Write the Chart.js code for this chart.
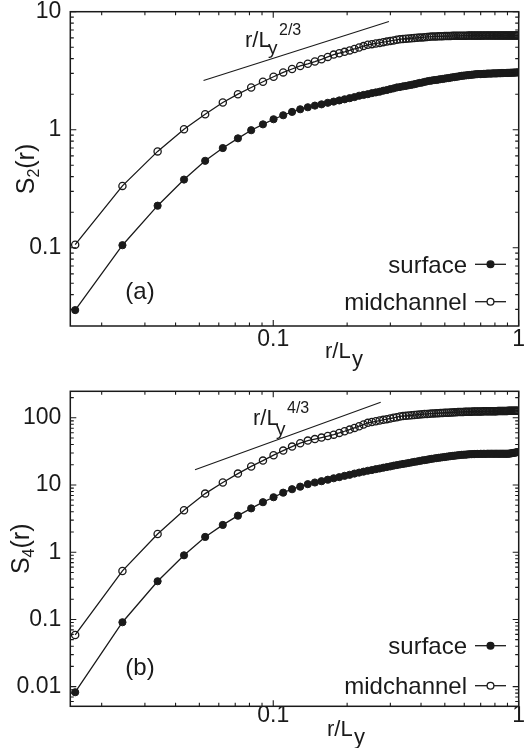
<!DOCTYPE html>
<html>
<head>
<meta charset="utf-8">
<script src="https://cdn.jsdelivr.net/npm/chart.js@4.4.0/dist/chart.umd.min.js"></script>
<style>
  html, body { margin: 0; padding: 0; background: #fff; }
  body { width: 524px; height: 748px; position: relative; overflow: hidden; }
  .panel { position: absolute; left: 0; width: 524px; height: 374px; }
</style>
</head>
<body>
<div class="panel" style="top:0"><canvas id="chartA" width="524" height="374"></canvas></div>
<div class="panel" style="top:374px"><canvas id="chartB" width="524" height="374"></canvas></div>
<script>
const INK = "#1a1a1a"
const FONT = '"Liberation Sans", Arial, sans-serif'

// r / L_y
const rValues = [
  0.0156, 0.0243, 0.0338, 0.0433, 0.0528, 0.0623, 0.0718, 0.0813, 0.0908, 0.1003,
  0.1098, 0.1193, 0.1288, 0.1383, 0.1478, 0.1573, 0.1668, 0.1763, 0.1858, 0.1953,
  0.2048, 0.2143, 0.2238, 0.2333, 0.2428, 0.2523, 0.2618, 0.2713, 0.2808, 0.2903,
  0.2998, 0.3093, 0.3188, 0.3283, 0.3378, 0.3473, 0.3568, 0.3663, 0.3758, 0.3853,
  0.3948, 0.4043, 0.4138, 0.4233, 0.4328, 0.4423, 0.4518, 0.4613, 0.4708, 0.4803,
  0.4898, 0.4993, 0.5088, 0.5183, 0.5278, 0.5373, 0.5468, 0.5563, 0.5658, 0.5753,
  0.5848, 0.5943, 0.6038, 0.6133, 0.6228, 0.6323, 0.6418, 0.6513, 0.6608, 0.6703,
  0.6798, 0.6893, 0.6988, 0.7083, 0.7178, 0.7273, 0.7368, 0.7463, 0.7558, 0.7653,
  0.7748, 0.7843, 0.7938, 0.8033, 0.8128, 0.8223, 0.8318, 0.8413, 0.8508, 0.8603,
  0.8698, 0.8793, 0.8888, 0.8983, 0.9078, 0.9173, 0.9268, 0.9363, 0.9458, 0.9553,
  0.9648, 0.9743, 0.9838, 0.9933
]

// S2(r)
const s2Surface = [
  0.0296, 0.105, 0.227, 0.378, 0.545, 0.699, 0.845, 0.99, 1.11, 1.226,
  1.326, 1.415, 1.49, 1.55, 1.60, 1.64, 1.69, 1.73, 1.77, 1.81,
  1.85, 1.89, 1.94, 1.97, 2.00, 2.04, 2.07, 2.10, 2.14, 2.17,
  2.21, 2.24, 2.28, 2.30, 2.33, 2.35, 2.38, 2.40, 2.43, 2.46,
  2.49, 2.51, 2.54, 2.57, 2.59, 2.61, 2.63, 2.64, 2.66, 2.68,
  2.69, 2.71, 2.73, 2.74, 2.76, 2.78, 2.79, 2.81, 2.82, 2.84,
  2.86, 2.87, 2.88, 2.89, 2.90, 2.91, 2.92, 2.93, 2.94, 2.95,
  2.96, 2.96, 2.96, 2.96, 2.97, 2.97, 2.98, 2.99, 2.99, 2.99,
  2.99, 3.00, 3.00, 3.00, 3.00, 3.01, 3.01, 3.01, 3.02, 3.02,
  3.02, 3.02, 3.03, 3.03, 3.03, 3.03, 3.04, 3.04, 3.04, 3.05,
  3.05, 3.05, 3.06, 3.06
]
const s2Mid = [
  0.106, 0.334, 0.655, 1.01, 1.35, 1.70, 2.00, 2.28, 2.55, 2.81,
  3.06, 3.27, 3.47, 3.62, 3.78, 3.95, 4.14, 4.33, 4.45, 4.57,
  4.70, 4.83, 4.97, 5.11, 5.24, 5.31, 5.38, 5.44, 5.52, 5.58,
  5.65, 5.71, 5.78, 5.85, 5.87, 5.90, 5.93, 5.96, 5.98, 6.01,
  6.04, 6.05, 6.08, 6.11, 6.12, 6.15, 6.17, 6.17, 6.18, 6.19,
  6.19, 6.21, 6.21, 6.22, 6.22, 6.24, 6.24, 6.25, 6.25, 6.25,
  6.26, 6.26, 6.26, 6.26, 6.27, 6.27, 6.27, 6.27, 6.27, 6.27,
  6.27, 6.27, 6.27, 6.27, 6.28, 6.28, 6.28, 6.28, 6.28, 6.28,
  6.28, 6.28, 6.28, 6.28, 6.28, 6.28, 6.28, 6.28, 6.28, 6.28,
  6.28, 6.28, 6.28, 6.28, 6.28, 6.28, 6.28, 6.28, 6.28, 6.28,
  6.28, 6.28, 6.28, 6.28
]

// S4(r)
const s4Surface = [
  0.00826, 0.0908, 0.37, 0.90, 1.69, 2.55, 3.50, 4.49, 5.55, 6.58,
  7.70, 8.66, 9.46, 10.3, 10.9, 11.4, 12.0, 12.6, 13.1, 13.7,
  14.2, 14.8, 15.3, 15.8, 16.3, 16.7, 17.2, 17.6, 18.1, 18.5,
  18.9, 19.4, 19.8, 20.2, 20.6, 20.9, 21.3, 21.7, 22.1, 22.4,
  22.8, 23.2, 23.5, 23.8, 24.2, 24.5, 24.8, 25.1, 25.4, 25.6,
  25.9, 26.1, 26.4, 26.6, 26.9, 27.1, 27.3, 27.5, 27.7, 27.9,
  28.1, 28.2, 28.3, 28.4, 28.6, 28.7, 28.8, 28.8, 28.9, 29.0,
  29.0, 29.0, 29.1, 29.1, 29.1, 29.1, 29.1, 29.2, 29.2, 29.2,
  29.2, 29.2, 29.2, 29.2, 29.2, 29.2, 29.2, 29.2, 29.2, 29.2,
  29.2, 29.2, 29.2, 29.2, 29.2, 29.4, 29.5, 29.7, 29.9, 30.1,
  30.3, 30.5, 30.8, 30.9
]
const s4Mid = [
  0.0588, 0.527, 1.87, 4.22, 7.45, 10.9, 14.8, 18.9, 23.1, 27.8,
  32.5, 37.3, 41.9, 45.8, 48.2, 50.8, 53.5, 56.2, 59.6, 63.1,
  66.8, 70.8, 75.0, 79.4, 84.1, 86.5, 88.7, 91.0, 93.3, 95.5,
  97.7, 100, 102, 105, 106, 107, 108, 109, 110, 111,
  112, 113, 114, 114, 115, 116, 116, 117, 117, 118,
  118, 119, 119, 119, 120, 120, 121, 121, 122, 122,
  122, 122, 123, 123, 123, 123, 123, 124, 124, 124,
  124, 124, 124, 124, 125, 125, 125, 125, 125, 125,
  125, 125, 125, 125, 125, 126, 126, 126, 126, 126,
  126, 126, 126, 126, 127, 127, 127, 127, 127, 127,
  127, 127, 127, 127
]

// reference power-law segments
const slope2X = [0.052, 0.296]
const slope2Y = [2.61, 8.26]
const slope4X = [0.048, 0.274]
const slope4Y = [16.9, 171]

// labelled ticks
const xTickLabels = [0.1, 1]
const s2TickLabels = [0.1, 1, 10]
const s4TickLabels = [0.01, 0.1, 1, 10, 100]

Chart.defaults.font.family = FONT
Chart.defaults.color = INK

function points(xs, ys) {
  return xs.map(function (x, i) {
    return { x: x, y: ys[i] }
  })
}

// every 1..9 x 10^n inside the range, decades marked as major
function logTicks(min, max, labels) {
  const result = []
  for (let e = Math.floor(Math.log10(min)); e <= Math.ceil(Math.log10(max)); e++) {
    for (let m = 1; m <= 9; m++) {
      const v = Number((m * Math.pow(10, e)).toPrecision(6))
      if (v >= min && v <= max) {
        result.push({ value: v, major: labels.includes(v) })
      }
    }
  }
  return result
}

function putText(ctx, text, size, x, y, align) {
  ctx.font = size + "px " + FONT
  ctx.textAlign = align || "left"
  ctx.fillText(text, x, y)
}

const panelPlugin = {
  id: "panel",
  afterDatasetsDraw(chart, args, opts) {
    const ctx = chart.ctx
    const area = chart.chartArea
    const xs = chart.scales.x
    const ys = chart.scales.y

    ctx.save()
    ctx.strokeStyle = INK
    ctx.fillStyle = INK

    // inward ticks on all four sides
    ctx.lineWidth = 1.1
    ctx.beginPath()
    xs.ticks.forEach(function (t) {
      const px = xs.getPixelForValue(t.value)
      const len = t.major ? 6 : 3.5
      ctx.moveTo(px, area.bottom)
      ctx.lineTo(px, area.bottom - len)
      ctx.moveTo(px, area.top)
      ctx.lineTo(px, area.top + len)
    })
    ys.ticks.forEach(function (t) {
      const py = ys.getPixelForValue(t.value)
      const len = t.major ? 6 : 3.5
      ctx.moveTo(area.left, py)
      ctx.lineTo(area.left + len, py)
      ctx.moveTo(area.right, py)
      ctx.lineTo(area.right - len, py)
    })
    ctx.stroke()

    ctx.lineWidth = 1.5
    ctx.strokeRect(area.left, area.top, area.right - area.left, area.bottom - area.top)

    // y axis title, rotated, with subscript
    ctx.save()
    ctx.translate(opts.yTitle.x, opts.yTitle.y)
    ctx.rotate(-Math.PI / 2)
    ctx.textBaseline = "alphabetic"
    ctx.font = "25px " + FONT
    const wS = ctx.measureText("S").width
    const wR = ctx.measureText("(r)").width
    ctx.font = "16px " + FONT
    const wSub = ctx.measureText(opts.yTitle.sub).width
    const total = wS + wSub + wR
    let cx = -total / 2
    putText(ctx, "S", 25, cx, 9)
    cx += wS
    putText(ctx, opts.yTitle.sub, 16, cx, 14)
    cx += wSub
    putText(ctx, "(r)", 25, cx, 9)
    ctx.restore()

    ctx.textBaseline = "alphabetic"

    // x axis title r/L_y
    putText(ctx, "r/L", 22, opts.xTitle.x, opts.xTitle.y)
    putText(ctx, "y", 22, opts.xTitle.x + 27, opts.xTitle.y + 8)

    // power-law annotation
    putText(ctx, "r/L", 22, opts.power.x, opts.power.y)
    putText(ctx, "y", 19, opts.power.x + 23, opts.power.y + opts.power.subDy)
    putText(ctx, opts.power.exp, 16, opts.power.x + 34, opts.power.y - 12)

    // panel tag
    ctx.textBaseline = "middle"
    putText(ctx, opts.tag.text, 24, opts.tag.x, opts.tag.y, "center")

    // legend
    opts.legend.forEach(function (item) {
      ctx.textBaseline = "alphabetic"
      putText(ctx, item.label, 24, 467, item.y + 8.5, "right")
      ctx.lineWidth = 1.3
      ctx.beginPath()
      ctx.moveTo(475, item.y)
      ctx.lineTo(506, item.y)
      ctx.stroke()
      ctx.beginPath()
      ctx.arc(490.5, item.y, 3.4, 0, Math.PI * 2)
      if (item.filled) {
        ctx.fill()
      } else {
        ctx.fillStyle = "#fff"
        ctx.fill()
        ctx.fillStyle = INK
      }
      ctx.stroke()
    })

    ctx.restore()
  },
}

function makeChart(id, cfg) {
  const datasets = [
    {
      data: points(cfg.slopeX, cfg.slopeY),
      showLine: true,
      borderColor: INK,
      borderWidth: 1.1,
      pointRadius: 0,
    },
    {
      data: points(rValues, cfg.surface),
      showLine: true,
      borderColor: INK,
      borderWidth: 1.3,
      pointRadius: 3.6,
      pointBorderWidth: 1,
      pointBackgroundColor: INK,
      pointBorderColor: INK,
    },
    {
      data: points(rValues, cfg.mid),
      showLine: true,
      borderColor: INK,
      borderWidth: 1.3,
      pointRadius: 3.6,
      pointBorderWidth: 1.3,
      pointBackgroundColor: "rgba(0,0,0,0)",
      pointBorderColor: INK,
    },
  ]

  return new Chart(document.getElementById(id), {
    type: "scatter",
    data: { datasets: datasets },
    options: {
      responsive: false,
      animation: false,
      events: [],
      layout: { padding: { top: cfg.padTop, right: 4, left: 0, bottom: 0 } },
      plugins: {
        legend: { display: false },
        tooltip: { enabled: false },
        panel: cfg.panel,
      },
      scales: {
        x: {
          type: "logarithmic",
          min: 0.0149,
          max: 1,
          grid: { display: false, drawTicks: false },
          border: { display: false },
          afterBuildTicks: function (scale) {
            scale.ticks = logTicks(0.0149, 1, xTickLabels)
          },
          afterFit: function (scale) {
            scale.height = cfg.xHeight
            scale.paddingLeft = 0
            scale.paddingRight = 0
          },
          ticks: {
            autoSkip: false,
            maxRotation: 0,
            padding: cfg.xPad,
            font: { size: 23 },
            color: INK,
            callback: function (v) {
              return xTickLabels.includes(v) ? String(v) : ""
            },
          },
        },
        y: {
          type: "logarithmic",
          min: cfg.yMin,
          max: cfg.yMax,
          grid: { display: false, drawTicks: false },
          border: { display: false },
          afterBuildTicks: function (scale) {
            scale.ticks = logTicks(cfg.yMin, cfg.yMax, cfg.yLabels)
          },
          afterFit: function (scale) {
            scale.width = 70.3
            scale.paddingTop = 0
            scale.paddingBottom = 0
          },
          ticks: {
            autoSkip: false,
            padding: 9,
            font: { size: 23 },
            color: INK,
            callback: function (v) {
              return cfg.yLabels.includes(v) ? String(v) : ""
            },
          },
        },
      },
    },
    plugins: [panelPlugin],
  })
}

makeChart("chartA", {
  surface: s2Surface,
  mid: s2Mid,
  slopeX: slope2X,
  slopeY: slope2Y,
  yMin: 0.0217,
  yMax: 10,
  yLabels: s2TickLabels,
  padTop: 11.7,
  xHeight: 48,
  xPad: 0,
  panel: {
    yTitle: { x: 25, y: 169, sub: "2" },
    xTitle: { x: 325, y: 358 },
    power: { x: 245, y: 47, subDy: 7, exp: "2/3" },
    tag: { text: "(a)", x: 140, y: 292 },
    legend: [
      { label: "surface", y: 264.3, filled: true },
      { label: "midchannel", y: 301.7, filled: false },
    ],
  },
})

makeChart("chartB", {
  surface: s4Surface,
  mid: s4Mid,
  slopeX: slope4X,
  slopeY: slope4Y,
  yMin: 0.0051,
  yMax: 248,
  yLabels: s4TickLabels,
  padTop: 17.3,
  xHeight: 41.7,
  xPad: -4,
  panel: {
    yTitle: { x: 20, y: 174.8, sub: "4" },
    xTitle: { x: 327, y: 361.7 },
    power: { x: 253, y: 51, subDy: 10, exp: "4/3" },
    tag: { text: "(b)", x: 140, y: 294 },
    legend: [
      { label: "surface", y: 271.7, filled: true },
      { label: "midchannel", y: 311.7, filled: false },
    ],
  },
})
</script>
</body>
</html>
